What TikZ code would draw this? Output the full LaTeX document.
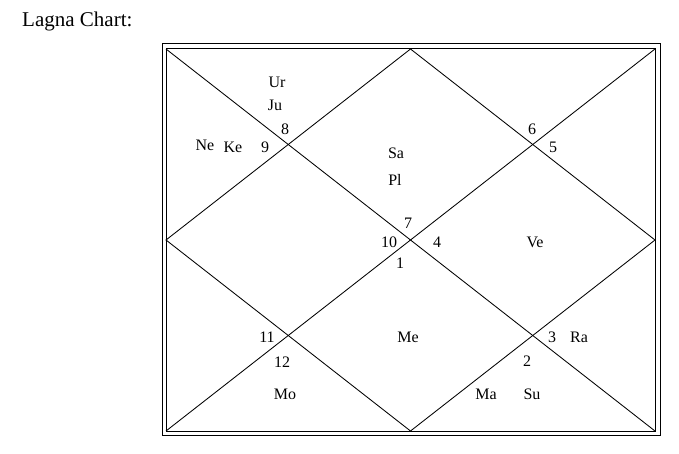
\documentclass[tikz,border=0pt]{standalone}
\usepackage{fontspec}
\setmainfont{Liberation Serif}
\begin{document}
\begin{tikzpicture}[x=1pt,y=-1pt,
  frame/.style={draw=black,line width=1pt},
  diag/.style={draw=black,line width=0.85pt},
  lbl/.style={font=\fontsize{16pt}{18pt}\selectfont,inner sep=0pt,text height=10.6pt,text depth=0pt,anchor=center}]
\useasboundingbox (0,0) rectangle (679,454);
\node[font=\fontsize{21pt}{24pt}\selectfont,inner sep=0pt,anchor=base west] (title) at (22,27) {Lagna Chart:};
\draw[frame] (162,44) rectangle (660,435);
\coordinate (tl) at (166,49);
\coordinate (tr) at (655,49);
\coordinate (br) at (655,431);
\coordinate (bl) at (166,431);
\coordinate (mt) at (410.5,49);
\coordinate (mr) at (655,240);
\coordinate (mb) at (410.5,431);
\coordinate (ml) at (166,240);
\draw[frame] (tl) rectangle (br);
\draw[diag] (tl) -- (br);
\draw[diag] (tr) -- (bl);
\draw[diag] (mt) -- (mr) -- (mb) -- (ml) -- cycle;
% labels
\node[lbl] (ur) at (277,82) {Ur};
\node[lbl] (ju) at (275,105) {Ju};
\node[lbl] (h8) at (285,129) {8};
\node[lbl] (ne) at (205,145) {Ne};
\node[lbl] (ke) at (233,147) {Ke};
\node[lbl] (h9) at (265,147) {9};
\node[lbl] (sa) at (396,153) {Sa};
\node[lbl] (pl) at (395,180) {Pl};
\node[lbl] (h7) at (408,223) {7};
\node[lbl] (h10) at (389,242) {10};
\node[lbl] (h4) at (437,242) {4};
\node[lbl] (h1) at (400,263) {1};
\node[lbl] (h6) at (532,129) {6};
\node[lbl] (h5) at (553,147) {5};
\node[lbl] (ve) at (535,242) {Ve};
\node[lbl] (h11) at (267,337) {11};
\node[lbl] (h12) at (282,362) {12};
\node[lbl] (mo) at (285,394) {Mo};
\node[lbl] (me) at (408,337) {Me};
\node[lbl] (h3) at (552,337) {3};
\node[lbl] (ra) at (579,337) {Ra};
\node[lbl] (h2) at (527,361) {2};
\node[lbl] (ma) at (486,394) {Ma};
\node[lbl] (su) at (532,394) {Su};
\end{tikzpicture}
\end{document}
